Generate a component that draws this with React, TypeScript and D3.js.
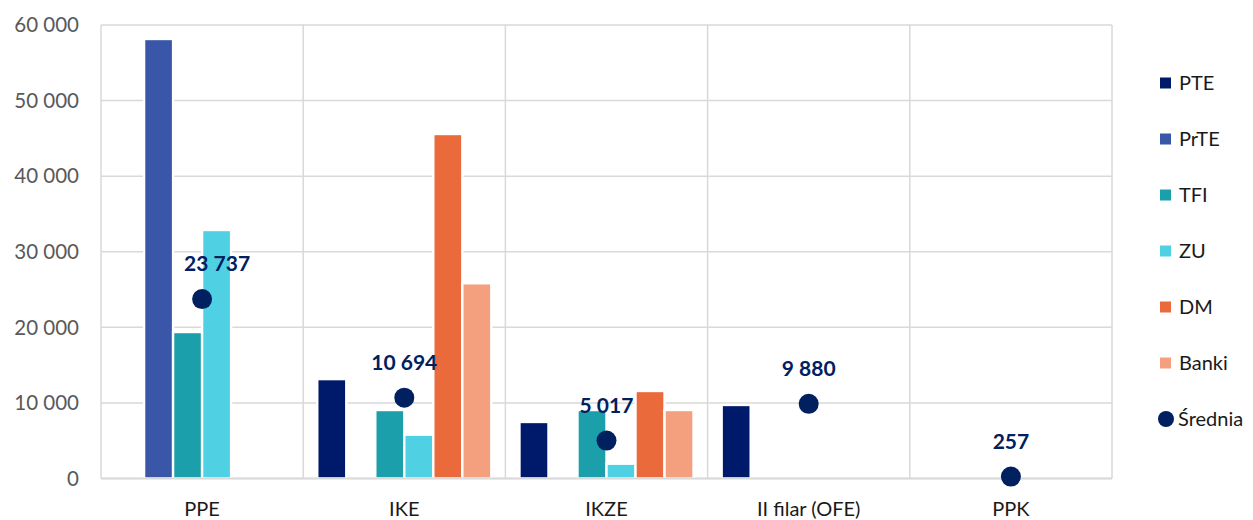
import React from "react";
import * as d3 from "d3";

const categories = ["PPE", "IKE", "IKZE", "II filar (OFE)", "PPK"];
const seriesNames = ["PTE", "PrTE", "TFI", "ZU", "DM", "Banki"];
const seriesColors = ["#001A6B", "#3A56A8", "#1B9FAA", "#4FD1E3", "#EB6A3C", "#F4A07F"];

// values per series, aligned with categories (null = no bar)
const PTE = [null, 13150, 7480, 9730, null];
const PrTE = [58150, null, null, null, null];
const TFI = [19380, 9060, 9060, null, null];
const ZU = [32880, 5800, 1960, null, null];
const DM = [null, 45580, 11580, null, null];
const Banki = [null, 25830, 9060, null, null];
const seriesValues = [PTE, PrTE, TFI, ZU, DM, Banki];

const meanName = "Średnia";
const meanValues = [23737, 10694, 5017, 9880, 257];
const meanLabelShift = [15, 0, 0, 0, 0];

const yTicks = [0, 10000, 20000, 30000, 40000, 50000, 60000];

const W = 1253;
const H = 520;
const M = { left: 101, right: 1112, top: 25, bottom: 478.5 };
const FONT = "Lato, 'Open Sans', sans-serif";
const GRID = "#D9D9D9";
const NAVY = "#002060";

const fmt = (v: number) => {
  const s = String(Math.round(v));
  return s.replace(/\B(?=(\d{3})+(?!\d))/g, " ");
};

export default function App() {
  const x0 = d3.scaleBand<string>().domain(categories).range([M.left, M.right]).padding(0);
  const x1 = d3
    .scaleBand<string>()
    .domain(seriesNames)
    .range([0, x0.bandwidth()])
    .paddingInner(0)
    .paddingOuter(0.485);
  const y = d3.scaleLinear().domain([0, 60000]).range([M.bottom, M.top]);

  const bars: JSX.Element[] = [];
  seriesNames.forEach((s, si) => {
    seriesValues[si].forEach((v, ci) => {
      if (v == null) return;
      const x = (x0(categories[ci]) as number) + (x1(s) as number);
      bars.push(
        <rect
          key={s + ci}
          x={x}
          y={y(v)}
          width={x1.bandwidth()}
          height={y(0) - y(v)}
          fill={seriesColors[si]}
          stroke="#FFFFFF"
          strokeWidth={2.4}
        />
      );
    });
  });

  const legendY = (i: number) => 83 + i * 56;

  return (
    <svg
      width={W}
      height={H}
      style={{ position: "absolute", left: 0, top: 0, background: "#fff" }}
      fontFamily={FONT}
    >
      {yTicks.map((t) => (
        <line key={"h" + t} x1={M.left} x2={M.right} y1={y(t)} y2={y(t)} stroke={GRID} strokeWidth={1.5} />
      ))}
      {[...categories.map((c) => x0(c) as number), M.right].map((xv, i) => (
        <line key={"v" + i} x1={xv} x2={xv} y1={M.top} y2={M.bottom} stroke={GRID} strokeWidth={1.5} />
      ))}
      {bars}
      <line x1={M.left} x2={M.right} y1={y(0)} y2={y(0)} stroke={GRID} strokeWidth={2} />
      {yTicks.map((t) => (
        <text
          key={"t" + t}
          x={79}
          y={y(t)}
          dy="0.35em"
          textAnchor="end"
          fontSize={20.5}
          fill="#595959"
        >
          {fmt(t)}
        </text>
      ))}
      {categories.map((c) => (
        <text
          key={"c" + c}
          x={(x0(c) as number) + x0.bandwidth() / 2}
          y={516}
          textAnchor="middle"
          fontSize={20}
          fill="#1a1a1a"
        >
          {c}
        </text>
      ))}
      {meanValues.map((v, i) => {
        const cx = (x0(categories[i]) as number) + x0.bandwidth() / 2;
        return (
          <g key={"m" + i}>
            <circle cx={cx} cy={y(v)} r={10} fill={NAVY} />
            <text
              x={cx + meanLabelShift[i]}
              y={y(v) - 35}
              dy="0.35em"
              textAnchor="middle"
              fontSize={21}
              fontWeight="bold"
              fill={NAVY}
            >
              {fmt(v)}
            </text>
          </g>
        );
      })}
      {seriesNames.map((s, i) => (
        <g key={"l" + s}>
          <rect x={1160} y={legendY(i) - 5.5} width={11} height={11} fill={seriesColors[i]} />
          <text x={1179} y={legendY(i)} dy="0.35em" fontSize={20} fill="#1a1a1a">
            {s}
          </text>
        </g>
      ))}
      <circle cx={1166} cy={legendY(6)} r={8} fill={NAVY} />
      <text x={1178} y={legendY(6)} dy="0.35em" fontSize={20} fill="#1a1a1a">
        {meanName}
      </text>
    </svg>
  );
}
